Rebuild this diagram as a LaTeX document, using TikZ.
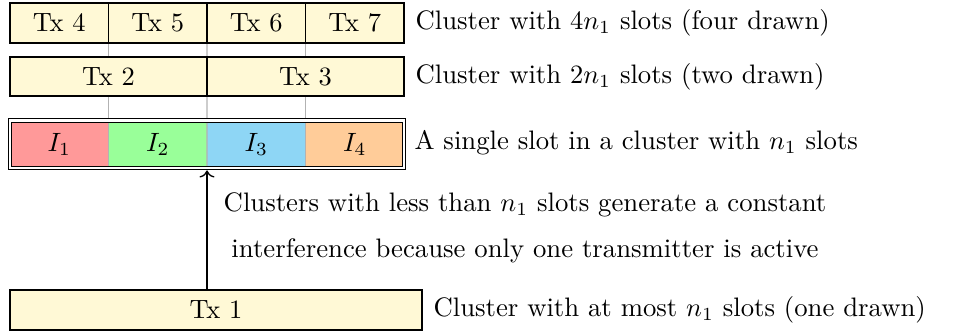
\documentclass[tikz,border=0pt]{standalone}
\usetikzlibrary{arrows.meta}
\definecolor{cellyellow}{RGB}{255,249,214}
\definecolor{slotred}{RGB}{255,153,153}
\definecolor{slotgreen}{RGB}{153,255,153}
\definecolor{slotblue}{RGB}{142,214,245}
\definecolor{slotorange}{RGB}{255,204,153}
\tikzset{
  cell/.style={draw=black, line width=0.5pt, fill=cellyellow, inner sep=0pt, outer sep=0pt,
    minimum height=40*0.378pt},
  slotcell/.style={inner sep=0pt, outer sep=0pt, minimum width=98.5*0.378pt, minimum height=47.5*0.378pt},
  guide/.style={draw=black!30, line width=0.5pt},
  lbl/.style={anchor=west, inner sep=0pt},
}
\begin{document}
\begin{tikzpicture}[x=0.378pt, y=-0.378pt]
\useasboundingbox (0,0) rectangle (971,333);
% row 3 fills
\node[slotcell, fill=slotred] (i1) at (59.25,144.25) {$I_1$};
\node[slotcell, fill=slotgreen] (i2) at (157.75,144.25) {$I_2$};
\node[slotcell, fill=slotblue] (i3) at (256.25,144.25) {$I_3$};
\node[slotcell, fill=slotorange] (i4) at (354.75,144.25) {$I_4$};
% guide lines
\coordinate (g1t) at (108.5,40);
\coordinate (g2t) at (207,40);
\coordinate (g3t) at (305.5,40);
\draw[guide] (g1t) -- (i1.south east);
\draw[guide] (g2t) -- (i2.south east);
\draw[guide] (g3t) -- (i3.south east);
% row 1
\node[cell, minimum width=98.5*0.378pt] (tx4) at (59.25,23) {Tx 4};
\node[cell, minimum width=98.5*0.378pt] (tx5) at (157.75,23) {Tx 5};
\node[cell, minimum width=98.5*0.378pt] (tx6) at (256.25,23) {Tx 6};
\node[cell, minimum width=98.5*0.378pt] (tx7) at (354.75,23) {Tx 7};
% row 2
\node[cell, minimum width=197*0.378pt, minimum height=39*0.378pt] (tx2) at (108.5,76.5) {Tx 2};
\node[cell, minimum width=197*0.378pt, minimum height=39*0.378pt] (tx3) at (305.5,76.5) {Tx 3};
% frame of row 3
\node[draw=black, line width=0.5pt, double=white, double distance=0.8pt, inner sep=0pt, outer sep=0pt,
  minimum width=394*0.378pt, minimum height=47.5*0.378pt] (frame) at (207,144.25) {};
% Tx 1
\node[cell, minimum width=412*0.378pt] (tx1) at (216,310) {Tx 1};
\draw[line width=0.5pt, ->] (tx1.north -| frame.south) -- ([yshift=-0.9pt]frame.south);
% labels
\begin{scope}[every node/.append style={font=\fontsize{10.1pt}{12.2pt}\selectfont}]
\node[lbl] (l1) at (415,23) {Cluster with $4n_1$ slots (four drawn)};
\node[lbl] (l2) at (415,76.5) {Cluster with $2n_1$ slots (two drawn)};
\node[lbl] (l3) at (414,143) {A single slot in a cluster with $n_1$ slots};
\node[lbl] (l4) at (433,310) {Cluster with at most $n_1$ slots (one drawn)};
\node[align=center, inner sep=0pt] (note) at (525,228) {Clusters with less than $n_1$ slots generate a constant\\[5pt] interference because only one transmitter is active};
\end{scope}
\end{tikzpicture}
\end{document}
